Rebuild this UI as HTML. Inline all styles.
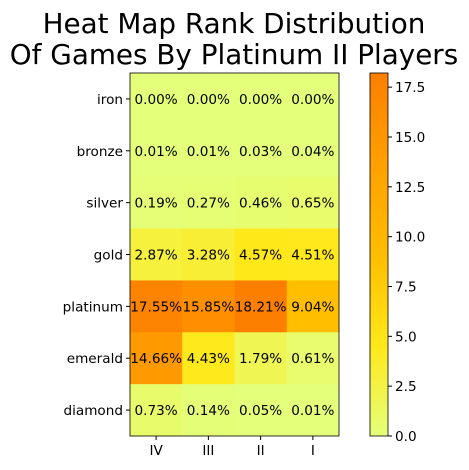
<!DOCTYPE html>
<html><head><meta charset="utf-8"><style>body{margin:0;background:#fff}svg{display:block;font-family:"DejaVu Sans","Liberation Sans",sans-serif}</style></head>
<body>
<svg id="chart" width="469" height="470" viewBox="0 0 469 470">
<text x="234" y="33" font-size="27.8" text-anchor="middle">Heat Map Rank Distribution</text>
<text x="234" y="64" font-size="27.8" text-anchor="middle">Of Games By Platinum II Players</text>
<g id="cells"></g>
<defs><linearGradient id="cbg" x1="0" y1="1" x2="0" y2="0">
<stop offset="0" stop-color="rgb(228,255,122)"/><stop offset="0.25" stop-color="rgb(255,232,26)"/><stop offset="0.5" stop-color="rgb(255,189,0)"/><stop offset="0.75" stop-color="rgb(255,160,0)"/><stop offset="1" stop-color="rgb(252,127,0)"/></linearGradient></defs>
<rect x="370" y="73" width="18" height="363" fill="url(#cbg)" stroke="#000" stroke-width="0.8"/>
<g id="cbticks"></g>
</svg>
<script>
const rows=["iron","bronze","silver","gold","platinum","emerald","diamond"];
const cols=["IV","III","II","I"];
const values=[[0,0,0,0],[0.01,0.01,0.03,0.04],[0.19,0.27,0.46,0.65],[2.87,3.28,4.57,4.51],[17.55,15.85,18.21,9.04],[14.66,4.43,1.79,0.61],[0.73,0.14,0.05,0.01]];
const cbTicks=[0,2.5,5,7.5,10,12.5,15,17.5];
const vmax=18.21;
const X0=130,X1=339,Y0=73,Y1=436;
const cw=(X1-X0)/cols.length, ch=(Y1-Y0)/rows.length;
const ns="http://www.w3.org/2000/svg";
const FS=13.6;
const stops=[[0,228,255,122],[0.25,255,232,26],[0.5,255,189,0],[0.75,255,160,0],[1,252,127,0]];
function color(v){let t=Math.max(0,Math.min(1,v/vmax));for(let i=0;i<4;i++){const a=stops[i],b=stops[i+1];if(t<=b[0]){const f=(t-a[0])/(b[0]-a[0]);return `rgb(${a[1]+(b[1]-a[1])*f},${a[2]+(b[2]-a[2])*f},${a[3]+(b[3]-a[3])*f})`;}}}
function mk(tag,at,p){const e=document.createElementNS(ns,tag);for(const k in at)e.setAttribute(k,at[k]);p.appendChild(e);return e;}
const g=document.getElementById('cells');
rows.forEach((r,i)=>{cols.forEach((c,j)=>{
 const rc=mk('rect',{x:X0+j*cw,y:Y0+i*ch,width:cw+0.5,height:ch+0.5,fill:color(values[i][j])},g);
 
 
 const t=mk('text',{x:X0+(j+0.5)*cw,y:Y0+(i+0.5)*ch+5,'font-size':FS,'text-anchor':'middle'},g);
 
 
 t.textContent=values[i][j].toFixed(2)+'%';
});
 const y=Y0+(i+0.5)*ch;
 mk('line',{x1:X0-4,x2:X0,y1:y,y2:y,stroke:'#000'},g);
 const t=mk('text',{x:X0-7,y:y+5,'font-size':FS,'text-anchor':'end'},g);
 
 
 t.textContent=r;
});
cols.forEach((c,j)=>{const x=X0+(j+0.5)*cw;
 mk('line',{x1:x,x2:x,y1:Y1,y2:Y1+4,stroke:'#000'},g);
 const t=mk('text',{x:x,y:Y1+19,'font-size':FS,'text-anchor':'middle'},g);
 
 
 t.textContent=c;});
const fr=mk('rect',{x:X0,y:Y0,width:X1-X0,height:Y1-Y0,fill:'none',stroke:'#000','stroke-width':0.8},g);


const cb=document.getElementById('cbticks');
cbTicks.forEach(v=>{const y=Y1-(v/vmax)*(Y1-Y0);
 mk('line',{x1:388,x2:392,y1:y,y2:y,stroke:'#000'},cb);
 const t=mk('text',{x:395,y:y+5,'font-size':FS},cb);
 
 
 t.textContent=v.toFixed(1);});
</script>
</body></html>
